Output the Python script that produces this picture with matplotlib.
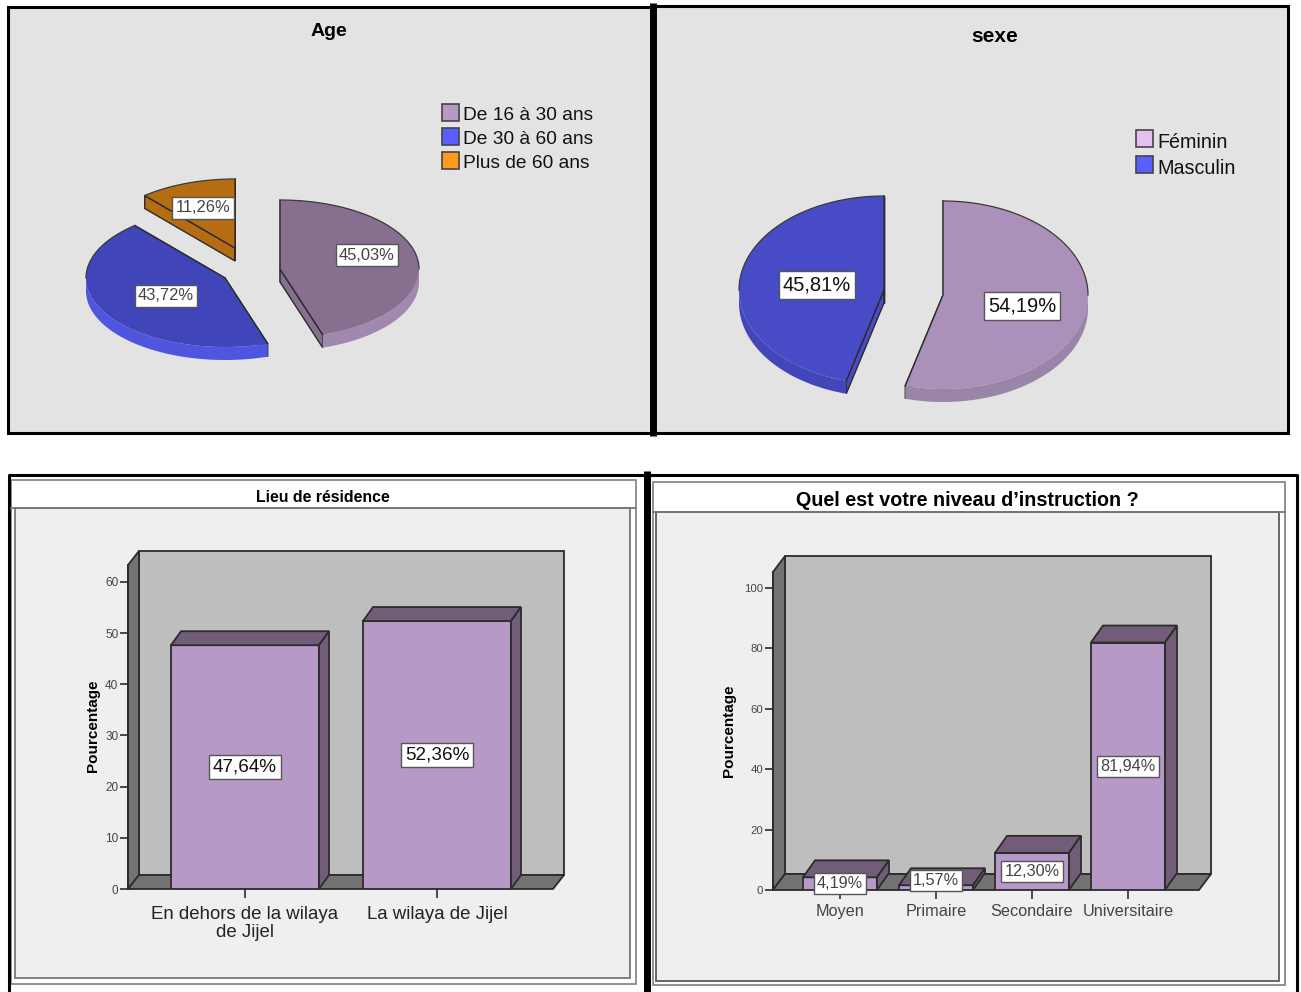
import matplotlib
matplotlib.use('Agg')
import matplotlib.pyplot as plt
from matplotlib.patches import Polygon, Rectangle
import numpy as np

plt.rcParams['font.family'] = ['Liberation Sans', 'DejaVu Sans']

W, H = 1301, 992

age_labels = ['De 16 à 30 ans', 'De 30 à 60 ans', 'Plus de 60 ans']
age_values = [45.03, 43.72, 11.26]
age_text = ['45,03%', '43,72%', '11,26%']

sex_labels = ['Féminin', 'Masculin']
sex_values = [54.19, 45.81]
sex_text = ['54,19%', '45,81%']

place_labels = ['En dehors de la wilaya\nde Jijel', 'La wilaya de Jijel']
place_values = [47.64, 52.36]
place_text = ['47,64%', '52,36%']
place_ticks = [0, 10, 20, 30, 40, 50, 60]

level_labels = ['Moyen', 'Primaire', 'Secondaire', 'Universitaire']
level_values = [4.19, 1.57, 12.30, 81.94]
level_text = ['4,19%', '1,57%', '12,30%', '81,94%']
level_ticks = [0, 20, 40, 60, 80, 100]

EDGE = '#2b2b2b'
BOX = dict(boxstyle='square,pad=0.2', fc='white', ec='#555555', lw=1)

fig = plt.figure(figsize=(W / 100, H / 100), dpi=100, facecolor='white')
bg = fig.add_axes([0, 0, 1, 1], zorder=0)
bg.set_xlim(0, W)
bg.set_ylim(H, 0)
bg.axis('off')


def frame(x0, y0, x1, y1, fc='none', ec='black', lw=2.2, z=1):
    bg.add_patch(Rectangle((x0, y0), x1 - x0, y1 - y0, fc=fc, ec=ec, lw=lw, zorder=z))


# panel frames
frame(8, 7, 652, 433, fc='#e3e3e3')
frame(653, 6, 1288, 433, fc='#e3e3e3')
bg.plot([652.5, 652.5], [3, 436], color='black', lw=5, solid_capstyle='butt', zorder=2)

bg.plot([8.5, 8.5, 1297, 1297], [992, 475, 475, 992], color='black', lw=2.2, zorder=2)
bg.plot([647, 647], [471, 992], color='black', lw=5, solid_capstyle='butt', zorder=2)

frame(11, 480, 636, 984, fc='white', ec='#888888', lw=1.3, z=1)
frame(653, 482, 1285, 985, fc='white', ec='#888888', lw=1.3, z=1)
frame(15, 508, 630, 978, fc='#efefef', ec='#777777', lw=1.3, z=2)
frame(656, 512, 1279, 981, fc='#efefef', ec='#666666', lw=1.4, z=2)
bg.plot([11, 636], [508, 508], color='#777777', lw=1.3, zorder=2)
bg.plot([653, 1285], [512, 512], color='#777777', lw=1.3, zorder=2)


def ell(cx, cy, rx, ry, a):
    a = np.radians(a)
    return cx + rx * np.sin(a), cy - ry * np.cos(a)


def pie3d(values, centers, rx, ry, depth, tops, sides):
    start = 0
    for v, (cx, cy), top, side in zip(values, centers, tops, sides):
        end = start + v * 3.6
        # radial side faces
        for a in (start, end):
            px, py = ell(cx, cy, rx, ry, a)
            bg.add_patch(Polygon([(cx, cy), (px, py), (px, py + depth), (cx, cy + depth)],
                                 fc=top, ec=EDGE, lw=1, zorder=3))
        # outer rim, only the front half shows
        a0, a1 = max(start, 90), min(end, 270)
        if a1 > a0:
            t = np.linspace(a0, a1, 80)
            xs, ys = ell(cx, cy, rx, ry, t)
            pts = list(zip(xs, ys)) + list(zip(xs[::-1], ys[::-1] + depth))
            bg.add_patch(Polygon(pts, fc=side, ec='none', zorder=3))
        t = np.linspace(start, end, 120)
        xs, ys = ell(cx, cy, rx, ry, t)
        pts = [(cx, cy)] + list(zip(xs, ys))
        bg.add_patch(Polygon(pts, fc=top, ec='none', zorder=4))
        # dark line on the radii and the back arc, none on the front arc
        sx, sy = ell(cx, cy, rx, ry, start)
        ex, ey = ell(cx, cy, rx, ry, end)
        bg.plot([sx, cx, ex], [sy, cy, ey], color=EDGE, lw=1, zorder=5)
        for lo, hi in ((start, min(end, 90)), (max(start, 270), end)):
            if hi > lo:
                t = np.linspace(lo, hi, 60)
                xs, ys = ell(cx, cy, rx, ry, t)
                bg.plot(xs, ys, color='#3a3a3a', lw=0.9, zorder=5)
        start = end


def legend(x, ys, labels, colors, size):
    for y, lab, col in zip(ys, labels, colors):
        bg.add_patch(Rectangle((x, y - 9), 17, 17, fc=col, ec='#444444', lw=1.2, zorder=3))
        bg.text(x + 21, y + 3, lab, fontsize=size, color='#111111', va='center', zorder=3)


# age pie
pie3d(age_values, [(280, 269), (225, 278), (235, 248)], 139, 69, 13,
      ['#87708f', '#4145ba', '#b56c12'], ['#a088ae', '#5055e0', '#b56c12'])
for txt, (x, y) in zip(age_text, [(367, 254), (166, 295), (203, 207)]):
    bg.text(x, y + 1, txt, fontsize=11.9, color='#444444', ha='center', va='center', bbox=BOX, zorder=6)
bg.text(329, 32, 'Age', fontsize=14, fontweight='bold', ha='center', va='center', zorder=3)
legend(442, [113, 137, 161], age_labels, ['#b799c8', '#5a5eff', '#ff9a1f'], 13.8)

# sex pie
pie3d(sex_values, [(943, 295), (884, 290)], 145, 94, 13,
      ['#ab91ba', '#474bc6'], ['#9a84a8', '#4246b8'])
for txt, (x, y) in zip(sex_text, [(1022, 305), (817, 284)]):
    bg.text(x, y + 1, txt, fontsize=14.5, color='#111111', ha='center', va='center', bbox=BOX, zorder=6)
bg.text(995, 36, 'sexe', fontsize=15, fontweight='bold', ha='center', va='center', zorder=3)
legend(1136, [139, 165], sex_labels, ['#e3c0f0', '#5a5eff'], 14.2)

# band titles
bg.text(323, 498, 'Lieu de résidence', fontsize=11.4, fontweight='bold', ha='center', va='center', zorder=3)
bg.text(967, 501, 'Quel est votre niveau d\u2019instruction ?', fontsize=14.2, fontweight='bold',
        ha='center', va='center', zorder=3)


def bars3d(box, first_px, step_px, y_top, values, labels, texts, ticks, bar_w, wall_d, bar_d,
           lab_size, lab_col, tick_size, txt_size, txt_col, nudge, ylab_px, ylab_mid, lab_pad):
    x0, y0, x1, y1 = box
    ax = fig.add_axes([x0 / W, 1 - y1 / H, (x1 - x0) / W, (y1 - y0) / H], zorder=3)
    ax.patch.set_visible(False)
    ax.set_xlim((x0 - first_px) / step_px, (x1 - first_px) / step_px)
    ax.set_ylim(0, y_top)
    sx = (x1 - x0) / (ax.get_xlim()[1] - ax.get_xlim()[0])
    sy = (y1 - y0) / y_top
    wx, wy = wall_d[0] / sx, wall_d[1] / sy
    bx, by = bar_d[0] / sx, bar_d[1] / sy
    xa, xb = ax.get_xlim()

    kw = dict(ec=EDGE, lw=1.3, clip_on=False)
    ax.add_patch(Polygon([(xa + wx, wy), (xb + wx, wy), (xb + wx, y_top + wy), (xa + wx, y_top + wy)],
                         fc='#bebebe', zorder=1, **kw))
    ax.add_patch(Polygon([(xa, 0), (xa + wx, wy), (xa + wx, y_top + wy), (xa, y_top)],
                         fc='#737373', zorder=1, **kw))
    ax.add_patch(Polygon([(xa, 0), (xa + wx, wy), (xb + wx, wy), (xb, 0)],
                         fc='#737373', zorder=1, **kw))

    pos = np.arange(len(values))
    ax.bar(pos, values, width=bar_w, color='#b799c8', edgecolor=EDGE, lw=1.3, zorder=3)
    for p, v in zip(pos, values):
        l, r = p - bar_w / 2, p + bar_w / 2
        ax.add_patch(Polygon([(l, v), (l + bx, v + by), (r + bx, v + by), (r, v)],
                             fc='#725d78', zorder=3, **kw))
        ax.add_patch(Polygon([(r, 0), (r + bx, by), (r + bx, v + by), (r, v)],
                             fc='#725d78', zorder=3, **kw))

    for p, v, t, n in zip(pos, values, texts, nudge):
        ax.annotate(t, (p, v / 2), xytext=(0, n), textcoords='offset points', fontsize=txt_size,
                    color=txt_col, ha='center', va='center', bbox=BOX, zorder=6, annotation_clip=False)

    for s in ('top', 'right', 'bottom'):
        ax.spines[s].set_visible(False)
    ax.spines['left'].set_color(EDGE)
    ax.spines['left'].set_linewidth(1.3)
    ax.set_xticks(pos)
    ax.set_xticklabels(labels, fontsize=lab_size, color=lab_col, linespacing=1.1)
    ax.set_yticks(ticks)
    ax.tick_params(axis='x', length=6.5, width=1.2, color=EDGE, pad=lab_pad)
    ax.tick_params(axis='y', length=6, width=1.2, color=EDGE, labelsize=tick_size, labelcolor='#444444', pad=1)
    ax.set_ylabel('Pourcentage', fontsize=11, fontweight='bold')
    ax.yaxis.set_label_coords((ylab_px - x0) / (x1 - x0), (y1 - ylab_mid) / (y1 - y0))
    return ax


bars3d((128, 565, 553, 889), 245, 192, 324 / 5.117, place_values, place_labels, place_text, place_ticks,
       148 / 192, (11, 14), (10, 14), 13.4, '#222222', 8.5, 13.6, '#111111', [0, 0], 100, 726, 5.5)
bars3d((773, 572, 1199, 890), 840, 96, 318 / 3.02, level_values, level_labels, level_text, level_ticks,
       74 / 96, (12, 16), (12, 17), 11.7, '#444444', 8.2, 11.7, '#444444', [0, 5, 0, 0], 736, 731, 3.5)

fig.savefig('out.png', dpi=100, facecolor='white')
